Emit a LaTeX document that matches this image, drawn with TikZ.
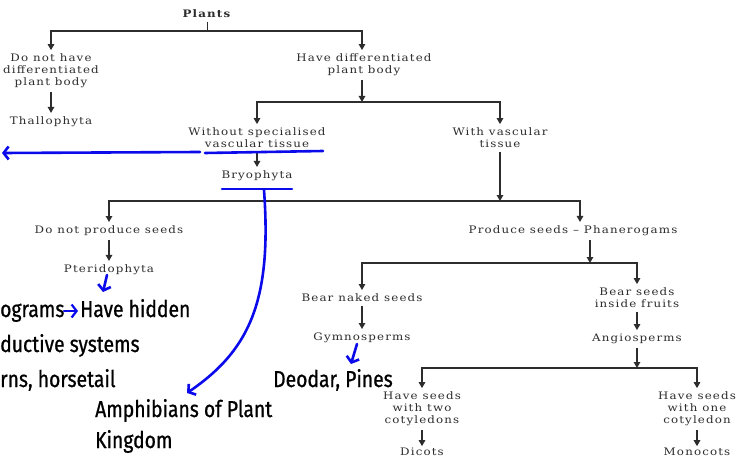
\documentclass[tikz,border=0pt]{standalone}
\usepackage{fontspec}
\setmainfont{DejaVu Serif}[FakeStretch=1.15,LetterSpace=11]
\newfontfamily\hand{Fira Sans}[FakeStretch=0.84,FakeBold=0.8]
\usetikzlibrary{arrows.meta}
\definecolor{penblue}{RGB}{10,10,235}
\definecolor{ink}{RGB}{45,45,45}
\begin{document}
\begin{tikzpicture}[x=1pt,y=-1pt,
 lbl/.style={font=\fontsize{10.3}{11.8}\selectfont, align=center, inner sep=1pt, outer sep=3pt, text=ink},
 arr/.style={draw=ink,-{Triangle[width=6.5pt,length=6pt]}, line width=1.3pt},
 bar/.style={draw=ink,line width=1pt},
 pen/.style={draw=penblue, line width=2.6pt, line cap=round},
 pentip/.style={pen,-{Straight Barb[length=5pt,width=13pt]}},
 hw/.style={font=\hand\fontsize{23}{26}\selectfont, inner sep=0pt, anchor=base west, text=black}
]
\path[use as bounding box, fill=white] (0,0) rectangle (742,460);

% level 1
\node[lbl] (plants) at (207,14) {\textbf{Plants}};
\coordinate (j1) at (207,31);
\node[lbl] (dnh) at (51,71) {Do not have\\differentiated\\plant body};
\node[lbl] (hd) at (364,65) {Have differentiated\\plant body};
\draw[bar] (plants) -- (j1);
\draw[arr] (j1) -| (dnh);
\draw[arr] (j1) -| ([xshift=-2pt]hd.north);
\node[lbl] (thal) at (51,122) {Thallophyta};
\draw[arr] (dnh) -- (thal);

% level 2
\coordinate (j2) at (362,102);
\draw[arr] ([xshift=-2pt]hd.south) -- (j2);
\node[lbl] (wst) at (257,138) {Without specialised\\vascular tissue};
\node[lbl] (wvt) at (500,138) {With vascular\\tissue};
\draw[arr] (j2) -| (wst);
\draw[arr] (j2) -| (wvt);
\node[lbl] (bryo) at (257,176) {Bryophyta};
\draw[arr] (wst) -- (bryo);

% level 3
\coordinate (j3) at (500,201);
\draw[arr] (wvt) -- (j3);
\node[lbl] (dnps) at (109,231) {Do not produce seeds};
\node[lbl] (ps) at (573,231) {Produce seeds -- Phanerogams};
\draw[arr] (j3) -| (dnps);
\draw[arr] (j3) -| ([xshift=7pt]ps.north);
\node[lbl] (pter) at (109,270) {Pteridophyta};
\draw[arr] (dnps) -- (pter);

% level 4
\coordinate (j4) at (590,263);
\draw[arr] ([xshift=17pt]ps.south) -- (j4);
\node[lbl] (bns) at (362,298) {Bear naked seeds};
\node[lbl] (bsif) at (637,298) {Bear seeds\\inside fruits};
\draw[arr] (j4) -| (bns);
\draw[arr] (j4) -| (bsif);
\node[lbl] (gym) at (362,338) {Gymnosperms};
\node[lbl] (ang) at (637,339) {Angiosperms};
\draw[arr] (bns) -- (gym);
\draw[arr] (bsif) -- (ang);

% level 5
\coordinate (j5) at (637,368);
\draw[arr] (ang) -- (j5);
\node[lbl] (two) at (422,409) {Have seeds\\with two\\cotyledons};
\node[lbl] (one) at (697,409) {Have seeds\\with one\\cotyledon};
\draw[arr] (j5) -| (two);
\draw[arr] (j5) -| (one);
\node[lbl, outer sep=1pt] (dic) at (422,452) {Dicots};
\node[lbl, outer sep=1pt] (mono) at (697,452) {Monocots};
\draw[arr] (two) -- (dic);
\draw[arr] (one) -- (mono);

% blue annotations
\coordinate (ua) at (205,153);
\coordinate (ub) at (323,151);
\draw[pen] (ua) -- (ub);
\coordinate (la) at (200,152);
\coordinate (lb) at (2,153);
\draw[pentip] (la) -- (lb);
\coordinate (ba) at (222,189);
\coordinate (bb) at (292,189);
\draw[pen] (ba) -- (bb);
\coordinate (c0) at (264,190);
\coordinate (c1) at (187,393);
\draw[pentip] (c0) .. controls (272,300) and (250,350) .. (c1);
\coordinate (pa) at (107,275);
\coordinate (pb) at (103,292);
\draw[pentip] (pa) -- (pb);
\coordinate (ga) at (357,344);
\coordinate (gb) at (351,364);
\draw[pentip] (ga) -- (gb);

\node[hw] (h1) at (0,317) {ograms};
\node[hw] (h2) at (80,317) {Have hidden};
\coordinate (ha) at (64,311);
\coordinate (hb) at (78,311);
\draw[pentip, line width=2.2pt] (ha) -- (hb);
\node[hw] (h3) at (0,352) {ductive systems};
\node[hw] (h4) at (0,387) {rns, horsetail};
\node[hw] (h5) at (95,417) {Amphibians of Plant};
\node[hw] (h6) at (95,448) {Kingdom};
\node[hw] (h7) at (273,387) {Deodar, Pines};
\end{tikzpicture}
\end{document}
